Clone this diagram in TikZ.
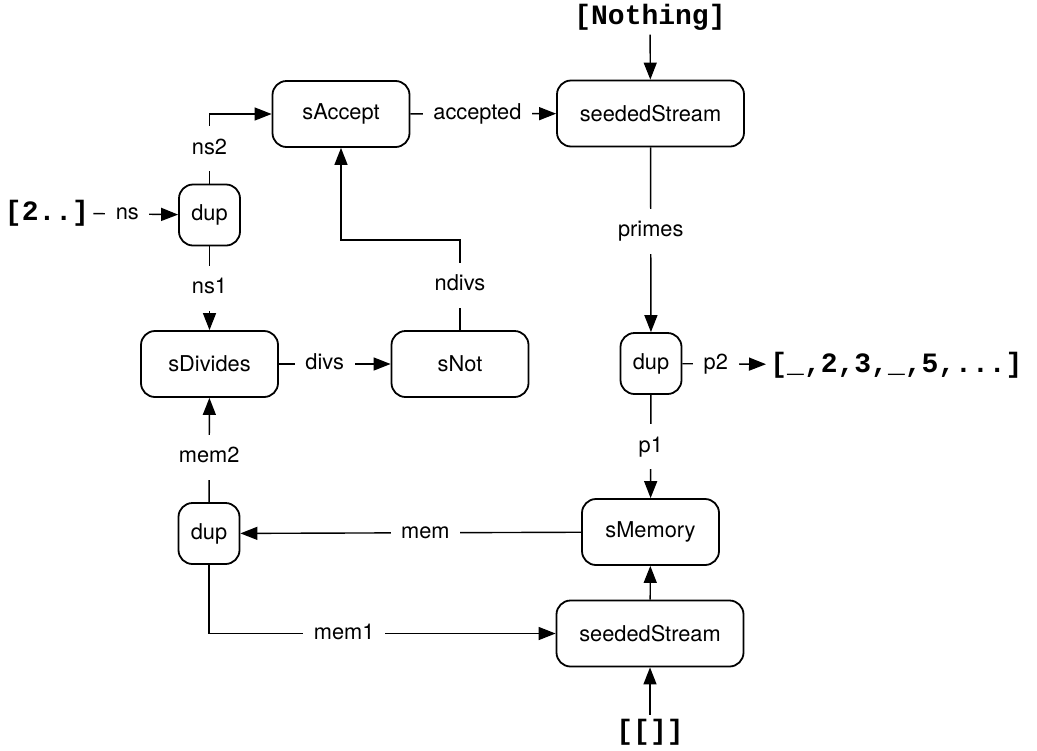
\documentclass[tikz,border=0pt]{standalone}
\usepackage{fontspec}
\setmainfont{TeX Gyre Heros}
\newfontfamily\codefont{Liberation Mono}
\usetikzlibrary{arrows.meta}

\tikzset{
  box/.style={draw, line width=0.9pt, rounded corners=7pt, minimum width=68.5pt,
    minimum height=33pt, font=\fontsize{10.9}{13}\selectfont},
  widebox/.style={box, minimum width=93.5pt},
  dupbox/.style={box, minimum width=30.5pt, minimum height=30.5pt},
  src/.style={inner sep=2pt, font=\codefont\bfseries\fontsize{14}{16}\selectfont},
  flow/.style={line width=0.7pt, -{Triangle[length=8.5pt,width=6.5pt]}},
  lbl/.style={fill=white, inner xsep=5.3pt, inner ysep=6pt, text height=8pt,
    text depth=2.5pt, font=\fontsize{10.9}{13}\selectfont}
}

\begin{document}
\begin{tikzpicture}[x=0.5pt,y=-0.5pt]
  \useasboundingbox (0,0) rectangle (1037,750);
  % boxes
  \node[box] (accept) at (341,114) {sAccept};
  \node[widebox] (seedTop) at (650.5,113.5) {seededStream};
  \node[dupbox] (dupNs) at (209.5,215) {dup};
  \node[box] (divides) at (209.5,364) {sDivides};
  \node[box] (not) at (460,364) {sNot};
  \node[dupbox] (dupP) at (651,363.5) {dup};
  \node[box] (memory) at (650.5,532) {sMemory};
  \node[dupbox] (dupM) at (209,533.5) {dup};
  \node[widebox] (seedBot) at (650,633.5) {seededStream};
  % inputs and output
  \node[src] (nothing) at (650,17) {[Nothing]};
  \node[src] (nats) at (47,213) {[2..]};
  \node[src, anchor=west] (primesOut) at (766,365) {[\_,2,3,\_,5,...]};
  \node[src] (empty) at (650,732) {[[]]};
  \coordinate (bend) at (460,240);

  \draw[flow] (nothing) -- (seedTop);
  \draw[flow] (nats) -- node[lbl,pos=0.4] {ns} (dupNs);
  \draw[flow] (dupNs) |- node[lbl,pos=0.25] {ns2} (accept);
  \draw[flow] (accept) -- node[lbl,pos=0.46] {accepted} (seedTop);
  \draw[flow] (seedTop) -- node[lbl,pos=0.455] {primes} (dupP);
  \draw[flow] (dupNs) -- node[lbl] {ns1} (divides);
  \draw[flow] (divides) -- node[lbl,pos=0.41] {divs} (not);
  \draw[flow] (not) -- node[lbl] {ndivs} (bend) -| (accept);
  \draw[flow] (dupP) -- node[lbl,pos=0.4] {p2} (primesOut);
  \draw[flow] (dupP) -- node[lbl] {p1} (memory);
  \draw[flow] (memory) -- node[lbl,pos=0.457] {mem} (dupM);
  \draw[flow] (dupM) -- node[lbl,pos=0.43] {mem2} (divides);
  \draw[flow] (dupM) |- node[lbl,pos=0.695] {mem1} (seedBot);
  \draw[flow] (seedBot) -- (memory);
  \draw[flow] (empty) -- (seedBot);
\end{tikzpicture}
\end{document}
